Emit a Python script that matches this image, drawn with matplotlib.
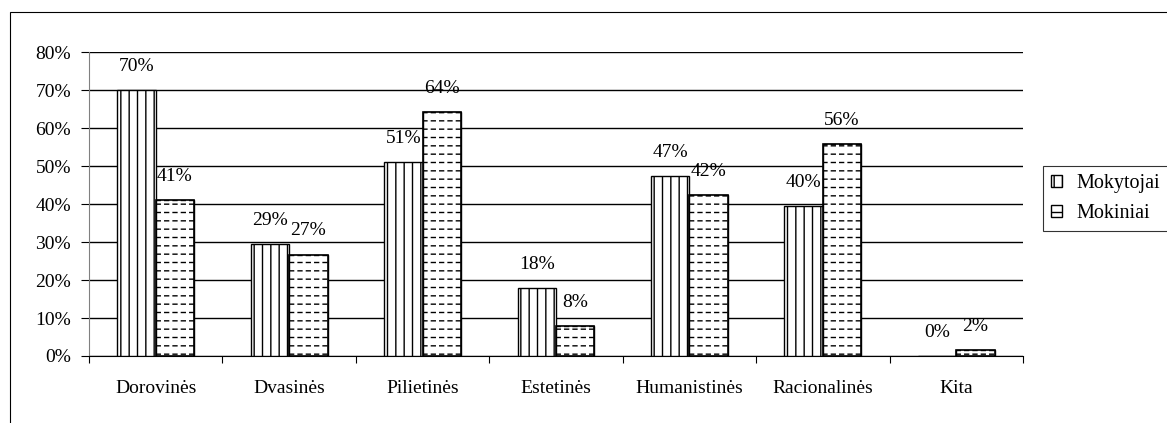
import matplotlib.pyplot as plt
import matplotlib as mpl
from matplotlib.patches import Rectangle
import numpy as np

categories = ["Dorovinės", "Dvasinės", "Pilietinės", "Estetinės",
              "Humanistinės", "Racionalinės", "Kita"]
mokytojai = [70.0, 29.4, 51.0, 17.8, 47.3, 39.5, 0.0]
mokiniai = [41.0, 26.7, 64.2, 7.8, 42.4, 55.8, 1.5]
yticks = [0, 10, 20, 30, 40, 50, 60, 70, 80]

plt.rcParams["font.family"] = ["Liberation Serif", "DejaVu Serif"]
plt.rcParams["font.size"] = 14
plt.rcParams["hatch.linewidth"] = 1.0

fig = plt.figure(figsize=(11.67, 4.23), dpi=100)
ax = fig.add_axes([0.0763, 0.1584, 0.8003, 0.7186])

x = np.arange(len(categories)) + 0.5
w = 0.288

b1 = ax.bar(x - w / 2, mokytojai, w, facecolor="white", edgecolor="black",
            hatch="||", linewidth=1.0, zorder=3, label="Mokytojai")
b2 = ax.bar(x + w / 2, mokiniai, w, facecolor="white", edgecolor="black",
            hatch="--", linewidth=1.0, zorder=3, label="Mokiniai")

# break the horizontal hatch into dashes
with mpl.rc_context({"hatch.linewidth": 2.2}):
    ax.bar(x + w / 2, mokiniai, w, facecolor="none", edgecolor="white",
           hatch="||", linewidth=0, zorder=4)
ax.bar(x + w / 2, mokiniai, w, facecolor="none", edgecolor="black",
       linewidth=1.2, zorder=5)

for xi, v in zip(x - w / 2, mokytojai):
    ax.annotate(f"{v:.0f}%", (xi, v), xytext=(0, 11), textcoords="offset points",
                ha="center", va="bottom")
for xi, v in zip(x + w / 2, mokiniai):
    ax.annotate(f"{v:.0f}%", (xi, v), xytext=(0, 11), textcoords="offset points",
                ha="center", va="bottom")

ax.set_xlim(0, len(categories))
ax.set_ylim(0, 80)
ax.set_yticks(yticks)
ax.set_yticklabels([f"{t}%" for t in yticks])
ax.set_xticks(np.arange(len(categories) + 1))
ax.set_xticklabels([])
ax.set_xticks(x, minor=True)
ax.set_xticklabels(categories, minor=True)
ax.tick_params(axis="x", which="major", length=5, direction="out", color="black")
ax.tick_params(axis="x", which="minor", length=0, pad=17)
ax.tick_params(axis="y", length=6, direction="out", pad=7)
ax.yaxis.grid(True, color="black", linewidth=1.0, zorder=0)
ax.set_axisbelow(True)
for s in ["top", "right"]:
    ax.spines[s].set_visible(False)
ax.spines["left"].set_color("#808080")
ax.spines["bottom"].set_color("black")

leg = fig.legend(handles=[b1, b2], loc="upper left",
                 bbox_to_anchor=(0.8937, 0.6076), borderaxespad=0,
                 frameon=True, fancybox=False, edgecolor="black",
                 handlelength=0.55, handleheight=0.55, handletextpad=0.7,
                 labelspacing=0.55, borderpad=0.4, fontsize=14.5)
leg.get_frame().set_linewidth(0.8)

fig.patches.append(Rectangle((10 / 1167, -0.1), 1.2, 1 - 12 / 423 + 0.1,
                             transform=fig.transFigure, fill=False,
                             edgecolor="black", linewidth=0.8))

plt.savefig("out.png", dpi=100)
